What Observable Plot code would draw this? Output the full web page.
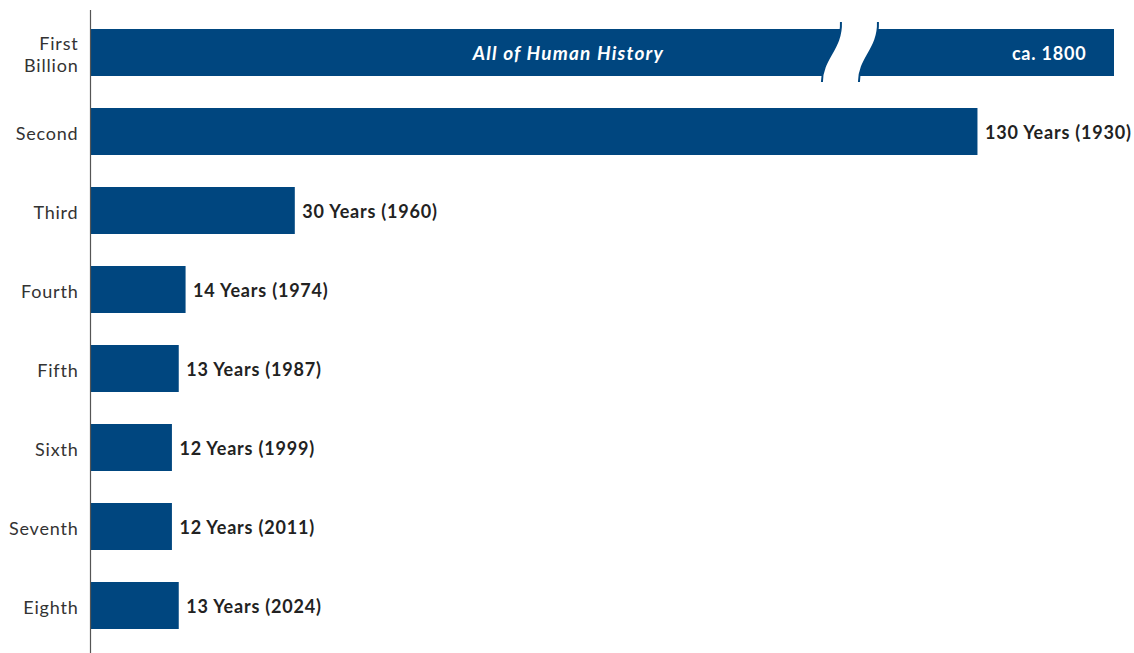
<!DOCTYPE html>
<html>
<head>
<meta charset="utf-8">
<script src="https://cdn.jsdelivr.net/npm/d3@7"></script>
<script src="https://cdn.jsdelivr.net/npm/@observablehq/plot@0.6"></script>
<style>
  html, body { margin: 0; padding: 0; background: #fff; }
  #chart svg { display: block; }
  #chart svg text { letter-spacing: 0.8px; }
  #chart svg .history text { letter-spacing: 1.2px; }
</style>
</head>
<body>
<div id="chart"></div>
<script>
const categories = ["First\nBillion", "Second", "Third", "Fourth", "Fifth", "Sixth", "Seventh", "Eighth"];
const durations = [null, 130, 30, 14, 13, 12, 12, 13];
const milestoneYears = [1800, 1930, 1960, 1974, 1987, 1999, 2011, 2024];
const firstBarLength = 150;   // drawn (broken) length of the first bar
const breakAt = 110;          // where the first bar is broken
const historyLabel = "All of Human History";
const historyLabelAt = 70;

const barColor = "#00467f";
const font = "Lato, 'Open Sans', sans-serif";

const data = categories.map((c, i) => ({
  cat: c,
  value: durations[i] == null ? firstBarLength : durations[i],
  broken: durations[i] == null,
  label: durations[i] == null ? `ca. ${milestoneYears[i]}` : `${durations[i]} Years (${milestoneYears[i]})`
}));

const chart = Plot.plot({
  width: 1134,
  height: 653,
  marginLeft: 90,
  marginRight: 20,
  marginTop: 12,
  marginBottom: 6,
  style: { fontFamily: font, background: "#fff" },
  x: { domain: [0, firstBarLength], axis: null },
  y: { domain: categories, paddingInner: 0.4, paddingOuter: 0.2, label: null },
  marks: [
    Plot.barX(data, { x: "value", y: "cat", fill: barColor }),
    Plot.text(data.filter(d => !d.broken), {
      x: "value", y: "cat", text: "label", textAnchor: "start", dx: 7, dy: 1.5,
      fontWeight: "bold", fontSize: 18, fill: "#222"
    }),
    Plot.text(data.filter(d => d.broken), {
      x: "value", y: "cat", text: "label", textAnchor: "end", dx: -28, dy: 1,
      fontWeight: "bold", fontSize: 18, fill: "#fff"
    }),
    Plot.text([{ cat: categories[0], x: historyLabelAt, t: historyLabel }], {
      x: "x", y: "cat", text: "t", textAnchor: "middle", className: "history", dy: 1,
      fontWeight: "bold", fontStyle: "italic", fontSize: 19, fill: "#fff"
    }),
    Plot.axisY({
      tickSize: 0, tickPadding: 12, fontSize: 18, lineHeight: 1.22, dy: 1,
      fill: "#333", label: null
    }),
    Plot.ruleX([0], { stroke: "#555", strokeWidth: 1.2, insetTop: -2, insetBottom: -6 })
  ]
});

document.getElementById("chart").appendChild(chart);

// Axis break on the first (broken) bar, positioned through the plot's scales
const xs = chart.scale("x"), ys = chart.scale("y");
const bx = xs.apply(breakAt);
const T = ys.apply(categories[0]);
const B = T + ys.bandwidth;
const gap = 37;
const curve = (x0) => `M${x0},${T - 7} C${x0 + 1},${T + 20} ${x0 - 19},${B - 18} ${x0 - 19},${B + 6}`;
const g = d3.select(chart).append("g");
g.append("path")
  .attr("d", `M${bx},${T - 7} C${bx + 1},${T + 20} ${bx - 19},${B - 18} ${bx - 19},${B + 6} L${bx + gap - 19},${B + 6} C${bx + gap - 19},${B - 18} ${bx + gap + 1},${T + 20} ${bx + gap},${T - 7} Z`)
  .attr("fill", "#fff");
g.append("path").attr("d", curve(bx)).attr("fill", "none").attr("stroke", barColor).attr("stroke-width", 2);
g.append("path").attr("d", curve(bx + gap)).attr("fill", "none").attr("stroke", barColor).attr("stroke-width", 2);
</script>
</body>
</html>
